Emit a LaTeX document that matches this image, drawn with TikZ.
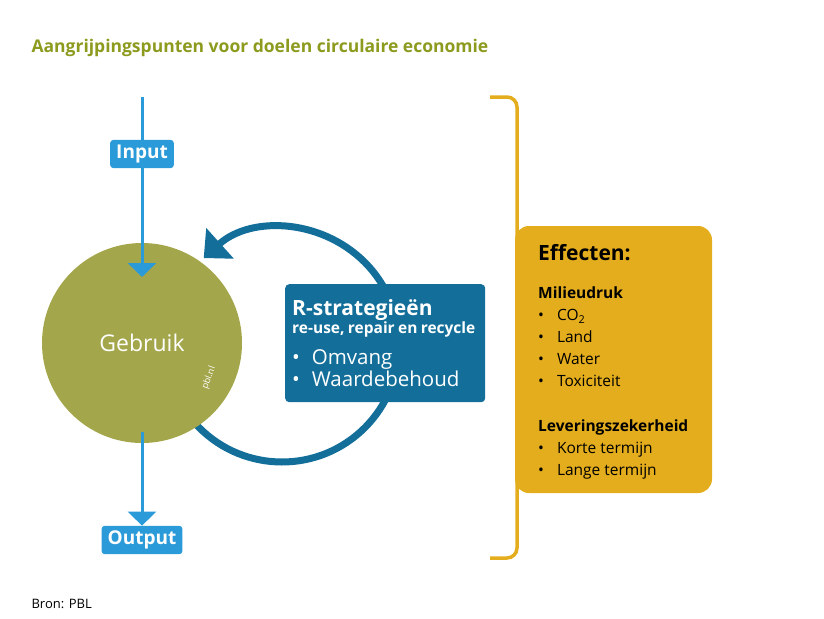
\documentclass[tikz,border=0pt]{standalone}
\usepackage{fontspec}
\setmainfont{Open Sans}
\usetikzlibrary{arrows.meta,positioning}
\definecolor{pblolive}{HTML}{A3A64A}
\definecolor{pbltitle}{HTML}{8C9A1E}
\definecolor{pblblue}{HTML}{2A9AD8}
\definecolor{pbldark}{HTML}{136F9A}
\definecolor{pblyellow}{HTML}{E3AD1D}
\newcommand{\listsize}{\mdseries\fontsize{15.5}{22}\selectfont}
\newcommand{\headsize}{\bfseries\fontsize{15.5}{22}\selectfont}
\newcommand{\pt}{\textbullet\hspace{13pt}}
\tikzset{
flow/.style={pblblue,line width=3pt,-{Triangle[length=14pt,width=28pt]}},
tag/.style={fill=pblblue,text=white,rounded corners=3pt,font=\bfseries\fontsize{19}{19}\selectfont,inner xsep=6pt,inner ysep=5pt},
loop/.style={pbldark,line width=7pt,-{Triangle[length=22pt,width=40pt]}},
}
\begin{document}
\begin{tikzpicture}[x=1pt,y=-1pt]
        \useasboundingbox (0,0) rectangle (824,618);
        \node[anchor=west,text=pbltitle,font=\bfseries\fontsize{17.5}{17.5}\selectfont] (title) at (28,48)
            {Aangrijpingspunten voor doelen circulaire economie};

        % loop around the circle
        \draw[loop] (282,345) ++(138:117) arc[start angle=138,end angle=-132,radius=117];
        \node[circle,fill=pblolive,minimum size=200pt,inner sep=0pt] (use) at (142,343) {};
        \node[text=white,font=\fontsize{23}{23}\selectfont] (uselabel) at (use) {Gebruik};
        \node[text=white,font=\fontsize{9}{9}\selectfont,rotate=70] (credit) at (209,378) {pbl.nl};

        % input and output
        \coordinate (top) at (142,97);
        \coordinate (hit) at (142,277);
        \coordinate (bottom) at (142,432);
        \node[tag] (input) at (142,154) {Input};
        \node[tag] (output) at (142,540) {Output};
        \draw[pblblue,line width=3pt] (top) -- (input);
        \draw[flow] (input) -- (hit);
        \draw[flow] (bottom) -- (output);

        \node[fill=pbldark,text=white,rounded corners=4pt,anchor=north west,minimum width=200pt,minimum height=118pt,
            align=left,inner xsep=7pt,inner ysep=5pt,text width=186pt] (rbox) at (285,284)
            {\bfseries\fontsize{21}{22}\selectfont R-strategieën\\[1pt]
             \fontsize{15.5}{17}\selectfont re-use, repair en recycle\\[3pt]
             \mdseries\fontsize{20.5}{28}\selectfont \textbullet\hspace{12pt}Omvang\\ \textbullet\hspace{12pt}Waardebehoud};

        % bracket with effects
        \draw[pblyellow,line width=3.5pt,rounded corners=10pt] (490,97) -- (517,97) -- (517,558) -- (490,558);
        \fill[pblyellow,rounded corners=14pt] (515,226) rectangle (712,493);
        \node[anchor=north west,align=left,inner sep=0pt,font=\listsize] (effects) at (538,244)
            {\bfseries\fontsize{21}{24}\selectfont Effecten:\\[16pt]
             \headsize Milieudruk\\
             \listsize \pt CO\textsubscript{2}\\
             \pt Land\\
             \pt Water\\
             \pt Toxiciteit\\[23pt]
             \headsize Leveringszekerheid\\
             \listsize \pt Korte termijn\\
             \pt Lange termijn};

        \node[anchor=west,font=\fontsize{13}{13}\selectfont] (source) at (28,604) {Bron: PBL};
\end{tikzpicture}
\end{document}
